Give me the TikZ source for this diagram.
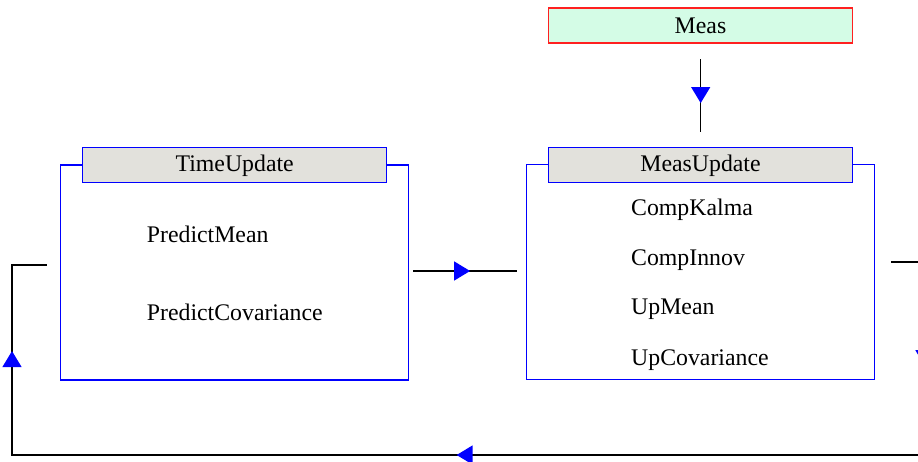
\documentclass[tikz,border=0pt]{standalone}
\usepackage{fontspec}
\setmainfont{Liberation Serif}
\usetikzlibrary{arrows.meta,decorations.markings}
\definecolor{headgrey}{RGB}{226,225,220}
\definecolor{measfill}{RGB}{212,252,230}
\definecolor{measedge}{RGB}{255,32,32}
\begin{document}
\begin{tikzpicture}[x=1pt,y=-1pt,
  txt/.style={font=\fontsize{23.8}{28}\selectfont},
  panel/.style={draw=blue, line width=1.4pt, inner sep=0pt, outer sep=0pt,
                minimum width=348pt, minimum height=215pt},
  header/.style={draw=blue, fill=headgrey, line width=1.4pt, inner sep=0pt, outer sep=0pt,
                 minimum width=304pt, minimum height=35pt, txt,
                 text height=15.7pt, text depth=0pt},
  source/.style={draw=measedge, fill=measfill, line width=1.4pt, inner sep=0pt, outer sep=0pt,
                 minimum width=304pt, minimum height=35pt, txt,
                 text height=15.7pt, text depth=0pt},
  item/.style={txt, inner sep=0pt, anchor=base west},
  conn/.style={black, line width=1.3pt, line cap=rect},
  midtip/.style={postaction={decorate, decoration={markings,
      mark=at position #1 with {\arrow{Triangle[width=19pt,length=16pt,color=blue]}}}}}
]
\clip (0,0) rectangle (918,462);
\fill[white] (0,0) rectangle (918,462);

% measurement source
\node[source] (meas) at (700.5,25.7) {Meas};

% time update block
\node[panel] (tu) at (234.6,272.5) {};
\node[header] (tuhead) at (234.7,165) {};
\node[txt, text height=15.7pt, text depth=0pt, inner sep=0pt] (tutitle) at (234.7,164) {TimeUpdate};
\node[item] (pmean) at (146.7,242.3) {PredictMean};
\node[item] (pcov) at (146.7,320) {PredictCovariance};

% measurement update block
\node[panel] (mu) at (700.6,272) {};
\node[header] (muhead) at (700.5,165.3) {};
\node[txt, text height=15.7pt, text depth=0pt, inner sep=0pt] (mutitle) at (700.5,163.4) {MeasUpdate};
\node[item] (ckal) at (631,216) {CompKalma};
\node[item] (cinn) at (631,265.7) {CompInnov};
\node[item] (umean) at (631,315) {UpMean};
\node[item] (ucov) at (631,365.7) {UpCovariance};

% connector end points
\coordinate (measout) at (700.7,59.3);
\coordinate (muin) at (700.7,131);
\coordinate (tuout) at (414,271);
\coordinate (muleft) at (516,271);
\coordinate (muout) at (892,262);
\coordinate (rtop) at (925,262);
\coordinate (rbot) at (925,455);
\coordinate (lbot) at (12,455);
\coordinate (ltop) at (12,265);
\coordinate (tuin) at (46,265);

% measurement feed
\draw[conn, midtip=0.61] (measout) -- (muin);
% time update to measurement update
\draw[conn, midtip=0.55] (tuout) -- (muleft);
% feedback loop
\draw[conn] (muout) -- (rtop);
\draw[conn, midtip=0.54] (rtop) -- (rbot);
\draw[conn, midtip=0.513] (rbot) -- (lbot);
\draw[conn, midtip=0.547] (lbot) -- (ltop);
\draw[conn] (ltop) -- (tuin);
\end{tikzpicture}
\end{document}
